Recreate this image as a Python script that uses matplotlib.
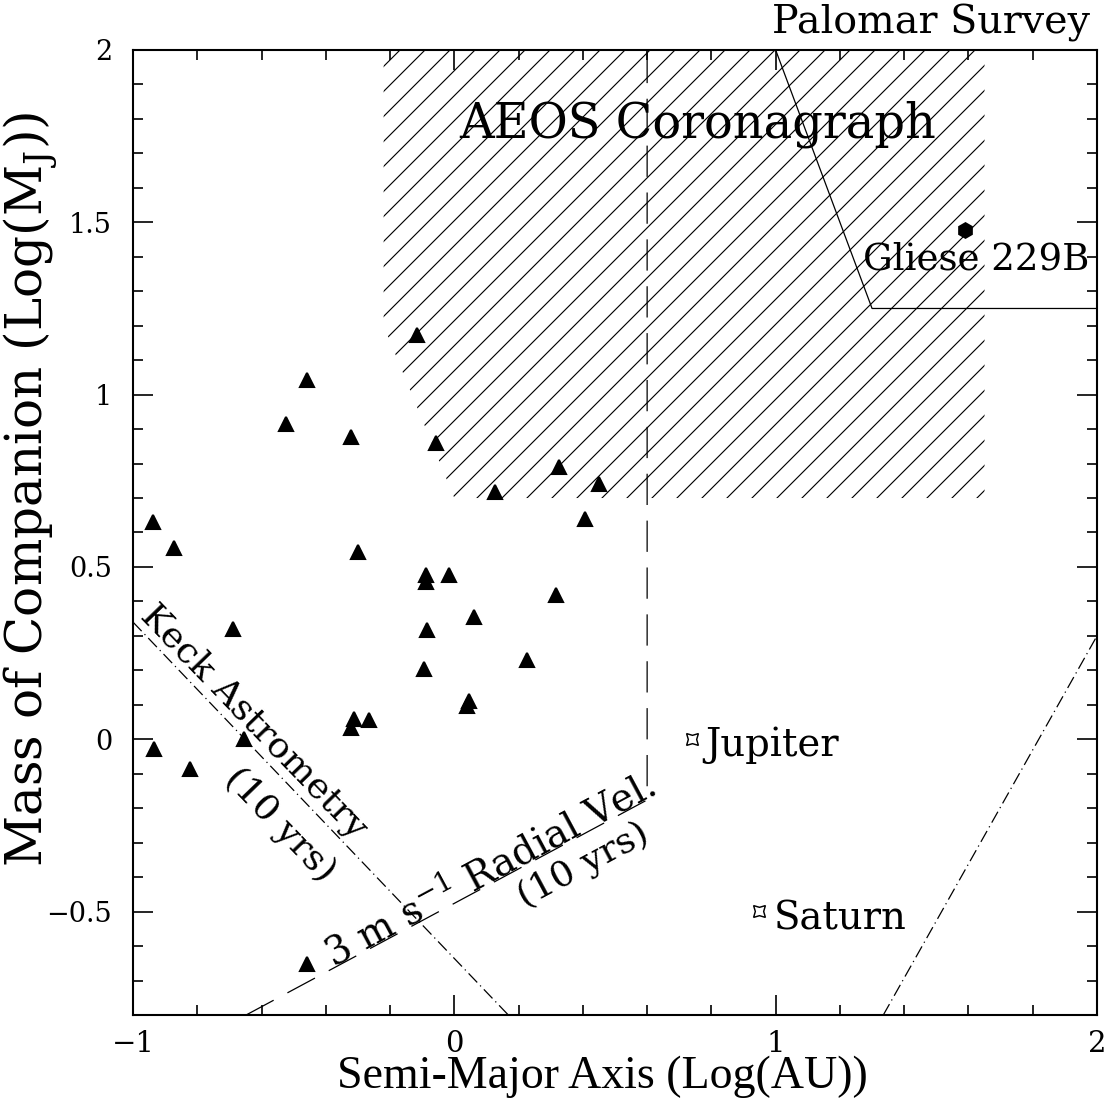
import matplotlib
matplotlib.use("Agg")
import matplotlib.pyplot as plt
from matplotlib.ticker import MultipleLocator, FuncFormatter

plt.rcParams["font.family"] = "DejaVu Serif"
plt.rcParams["mathtext.fontset"] = "custom"
plt.rcParams["mathtext.rm"] = "DejaVu Serif"
plt.rcParams["hatch.linewidth"] = 0.55
plt.rcParams["lines.scale_dashes"] = False

# ---------------------------------------------------------------- data
# known companions (triangles): log a [AU], log M [M_J]
planet_loga = [-0.116, -0.458, -0.523, -0.322, -0.057, 0.325, 0.128, 0.451,
               0.407, -0.938, -0.871, -0.301, -0.088, -0.088, -0.018, 0.317,
               0.062, -0.085, -0.689, 0.226, -0.095, 0.045, 0.040, -0.313,
               -0.322, -0.267, -0.934, -0.656, -0.824, -0.458]
planet_logm = [1.172, 1.043, 0.915, 0.876, 0.860, 0.789, 0.718, 0.741,
               0.638, 0.631, 0.556, 0.544, 0.476, 0.457, 0.478, 0.420,
               0.356, 0.316, 0.319, 0.230, 0.203, 0.111, 0.098, 0.058,
               0.034, 0.056, -0.027, 0.000, -0.087, -0.652]

# solar system planets
ss_names = ["Jupiter", "Saturn"]
ss_loga = [0.74, 0.947]
ss_logm = [0.0, -0.497]

# brown dwarf
gl_name = "Gliese 229B"
gl_loga = [1.590]
gl_logm = [1.478]

# AEOS coronagraph sensitivity region
aeos_x = [-0.22, -0.22, 0.0, 1.65, 1.65]
aeos_y = [2.0, 1.2, 0.7, 0.7, 2.0]

# 3 m/s radial velocity limit (10 yrs)
rv_x = [-0.648, 0.6, 0.6]
rv_y = [-0.80, -0.176, 2.0]

# Keck astrometry limit (10 yrs)
keck_x = [-1.0, 0.168]
keck_y = [0.34, -0.80]

# right-hand dash-dot limit
img_x = [1.335, 2.0]
img_y = [-0.80, 0.30]

# Palomar survey boundary
pal_x = [1.0, 1.30, 2.0]
pal_y = [2.0, 1.25, 1.25]

# ---------------------------------------------------------------- figure
W, H, DPI = 1109, 1114, 150
fig = plt.figure(figsize=(W / DPI, H / DPI), dpi=DPI)
fig.patch.set_facecolor("white")
ax = fig.add_axes([133 / W, 99 / H, 964 / W, 965 / H])

ax.fill(aeos_x, aeos_y, facecolor="none", edgecolor="black", hatch="//",
        linewidth=0, zorder=1)

dash = (0, (15, 7.5))
dashdot = (0, (6, 2, 0.6, 2))
ax.plot(rv_x, rv_y, color="black", lw=0.6, linestyle=dash, zorder=2)
ax.plot(keck_x, keck_y, color="black", lw=0.6, linestyle=dashdot, zorder=2)
ax.plot(img_x, img_y, color="black", lw=0.6, linestyle=dashdot, zorder=2)
ax.plot(pal_x, pal_y, color="black", lw=0.6, zorder=2)

ax.plot(planet_loga, planet_logm, linestyle="none", marker="^",
        markersize=6.5, color="black", zorder=4)
ax.plot(gl_loga, gl_logm, linestyle="none", marker="h", markersize=7,
        color="black", zorder=4)
ax.plot(ss_loga, ss_logm, linestyle="none", marker=(4, 1, 45),
        markersize=8, markerfacecolor="white", markeredgecolor="black",
        markeredgewidth=0.7, zorder=4)

# labels
TXT = 18.5
ax.text(0.756, 1.745, "AEOS Coronagraph", fontsize=23, ha="center",
        va="baseline", zorder=5)
ax.text(1.273, 1.362, gl_name, fontsize=17.8, ha="left", va="baseline",
        zorder=5)
ax.text(0.781, -0.048, ss_names[0], fontsize=TXT, ha="left", va="baseline")
ax.text(0.993, -0.551, ss_names[1], fontsize=TXT, ha="left", va="baseline")

ax.text(-0.622, 0.050, "Keck Astrometry", fontsize=17.5, rotation=-46,
        ha="center", va="center", rotation_mode="anchor")
ax.text(-0.542, -0.249, "(10 yrs)", fontsize=17.5, rotation=-46,
        ha="center", va="center", rotation_mode="anchor")
ax.text(0.112, -0.380, r"3 m s$^{-1}$ Radial Vel.", fontsize=18.5,
        rotation=28.2, ha="center", va="center", rotation_mode="anchor")
ax.text(0.401, -0.365, "(10 yrs)", fontsize=17.5, rotation=28.2,
        ha="center", va="center", rotation_mode="anchor")

fig.text(1090 / W, 1 - 33 / H, "Palomar Survey", fontsize=19,
         ha="right", va="baseline")

# axes
ax.set_xlim(-1, 2)
ax.set_ylim(-0.8, 2)
ax.xaxis.set_major_locator(MultipleLocator(1))
ax.xaxis.set_minor_locator(MultipleLocator(0.2))
ax.yaxis.set_major_locator(MultipleLocator(0.5))
ax.yaxis.set_minor_locator(MultipleLocator(0.1))
fmt = FuncFormatter(lambda v, p: f"{v:g}".replace("-", "\u2212"))
ax.xaxis.set_major_formatter(fmt)
ax.yaxis.set_major_formatter(fmt)
ax.tick_params(which="both", direction="in", top=True, right=True,
               width=0.8, color="black")
ax.tick_params(which="major", length=9.5)
ax.tick_params(which="minor", length=4.8)
ax.tick_params(axis="x", which="major", pad=7, labelsize=14)
ax.tick_params(axis="y", which="major", pad=10, labelsize=13)
for sp in ax.spines.values():
    sp.set_linewidth(1.0)

ax.set_xlabel("Semi-Major Axis (Log(AU))", fontsize=22,
              family="Liberation Serif")
ax.xaxis.set_label_coords(0.487, -0.042)
ax.set_ylabel(r"Mass of Companion (Log(M$_\mathrm{J}$))", fontsize=24)
ax.yaxis.set_label_coords(-0.077, 0.545)

fig.savefig("out.png", dpi=DPI, facecolor="white")
